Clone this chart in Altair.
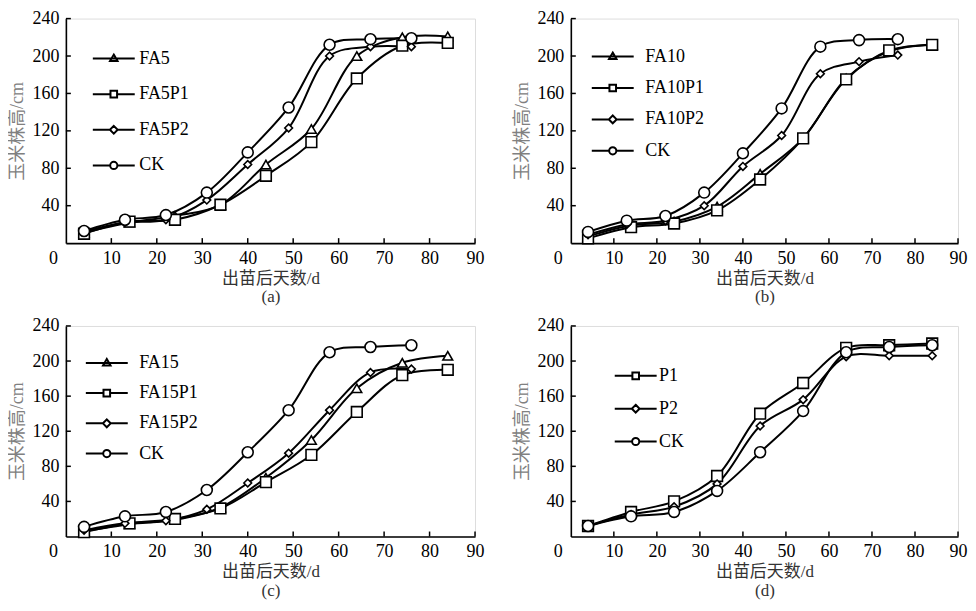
import altair as alt
import pandas as pd

# ---------------- data ----------------
X_MAIN = [4, 14, 24, 34, 44, 54, 64, 74, 84]
X_CK = [4, 13, 22, 31, 40, 49, 58, 67, 76]

# panel (a)
A_FA5 = [11, 22, 29, 41, 84, 122, 200, 220, 221]
A_FA5P1 = [10, 23, 25, 41, 72, 108, 176, 211, 214]
A_FA5P2 = [12, 22, 25, 46, 84, 123, 200, 210, 210]
A_CK = [13, 25, 30, 54, 97, 145, 212, 218, 219]

# panel (b)
B_FA10 = [7, 19, 23, 39, 74, 112, 176, 205, 212]
B_FA10P1 = [5, 17, 21, 35, 68, 112, 175, 206, 212]
B_FA10P2 = [9, 20, 24, 40, 82, 115, 181, 194, 201]
B_CK = [12, 24, 29, 54, 96, 144, 210, 217, 218]

# panel (c)
C_FA15 = [6, 14, 19, 33, 67, 110, 169, 198, 206]
C_FA15P1 = [5, 15, 20, 32, 62, 93, 142, 184, 190]
C_FA15P2 = [7, 15, 18, 31, 61, 95, 144, 187, 191]
C_CK = [11, 23, 28, 53, 96, 144, 210, 216, 218]

# panel (d)
D_P1 = [12, 28, 40, 69, 140, 175, 215, 218, 220]
D_P2 = [12, 25, 34, 60, 126, 156, 205, 206, 206]
D_CK = [12, 23, 28, 52, 96, 143, 210, 216, 218]

X_TICKS = [0, 10, 20, 30, 40, 50, 60, 70, 80, 90]
Y_TICKS = [40, 80, 120, 160, 200, 240]
X_TITLE = "出苗后天数/d"
Y_TITLE = "玉米株高/cm"

# ---------------- styling ----------------
SERIF = "Liberation Serif"
CJK = "Liberation Serif, Noto Sans CJK SC"

MARKERS = {
    "tri": ("triangle-up", 95),
    "sq": ("square", 115),
    "dia": ("diamond", 60),
    "circ": ("circle", 120),
}
L = 7.0
LEG_PATHS = {
    "tri": f"M-{L},0H{L}M0,-1.3L1.25,0.85H-1.25Z",
    "sq": f"M-{L},0H-1.1M1.1,0H{L}M-1.1,-1.1H1.1V1.1H-1.1Z",
    "dia": f"M-{L},0H-1.3M1.3,0H{L}M0,-1.3L1.3,0L0,1.3L-1.3,0Z",
    "circ": f"M-{L},0H-1.2M1.2,0H{L}M-1.2,0A1.2,1.2,0,1,0,1.2,0A1.2,1.2,0,1,0,-1.2,0Z",
}


def panel(series, caption, width, height, legX, legY, rowPad, labOff):
    rows = []
    for name, xs, ys, mk in series:
        for xv, yv in zip(xs, ys):
            rows.append({"series": name, "x": xv, "y": yv})
    df = pd.DataFrame(rows)
    names = [s[0] for s in series]

    xscale = alt.Scale(domain=[0, 90], nice=False, zero=True)
    yscale = alt.Scale(domain=[0, 240], nice=False, zero=True)
    xaxis = alt.Axis(values=X_TICKS, ticks=False, grid=False, domainColor="black",
                     domainWidth=1.6, labelFont=SERIF, labelFontSize=18, labelColor="black",
                     labelPadding=6, labelFlush=False,
                     labelOffset={"condition": {"test": "datum.value === 0", "value": -13}, "value": 0},
                     title=[X_TITLE, caption], titleFont=CJK, titleFontSize=17,
                     titleFontWeight="normal", titleColor="#333333", titlePadding=3,
                     titleLineHeight=19)
    yaxis = alt.Axis(values=Y_TICKS, ticks=False, grid=False, domainColor="black",
                     domainWidth=1.6, labelFont=SERIF, labelFontSize=18, labelColor="black",
                     labelPadding=7, title=Y_TITLE, titleFont=CJK, titleFontSize=18,
                     titleFontWeight="normal", titleColor="#808080", titlePadding=5)

    base = alt.Chart(df)
    X = alt.X("x:Q", scale=xscale, axis=xaxis)
    Y = alt.Y("y:Q", scale=yscale, axis=yaxis)

    lines = base.mark_line(interpolate="catmull-rom", color="black", strokeWidth=2).encode(
        x=X, y=Y, detail="series:N")

    layers = [lines]
    for name, xs, ys, mk in series:
        shp, sz = MARKERS[mk]
        layers.append(
            base.transform_filter(alt.datum.series == name)
            .mark_point(shape=shp, size=sz, filled=True, fill="white", stroke="black",
                        strokeWidth=1.6, opacity=1)
            .encode(x=alt.X("x:Q", scale=xscale), y=alt.Y("y:Q", scale=yscale))
        )

    leg = base.transform_filter("false").mark_point(
        filled=True, fill="white", stroke="black", strokeWidth=2, opacity=1
    ).encode(
        x=alt.X("x:Q", scale=xscale),
        y=alt.Y("y:Q", scale=yscale),
        shape=alt.Shape("series:N",
                        scale=alt.Scale(domain=names, range=[LEG_PATHS[s[3]] for s in series]),
                        legend=alt.Legend(orient="none", legendX=legX, legendY=legY, title=None,
                                          labelFont=SERIF, labelFontSize=18, labelColor="black",
                                          symbolSize=36, symbolOpacity=1, symbolStrokeWidth=2,
                                          rowPadding=rowPad, labelOffset=labOff, padding=0)),
    )
    layers.append(leg)

    xt = alt.Chart(pd.DataFrame({"x": X_TICKS[1:]})).mark_rule(color="black", strokeWidth=1.5).encode(
        x=alt.X("x:Q", scale=xscale), y=alt.value(height), y2=alt.value(height - 5))
    yt = alt.Chart(pd.DataFrame({"y": Y_TICKS})).mark_rule(color="black", strokeWidth=1.5).encode(
        y=alt.Y("y:Q", scale=yscale), x=alt.value(0), x2=alt.value(5))
    layers += [xt, yt]

    return alt.layer(*layers).resolve_scale(shape="independent").properties(width=width, height=height)


pa = panel([("FA5", X_MAIN, A_FA5, "tri"), ("FA5P1", X_MAIN, A_FA5P1, "sq"),
            ("FA5P2", X_CK, A_FA5P2, "dia"), ("CK", X_CK, A_CK, "circ")],
           "(a)", 410, 225, 39, 31, 17.7, 16.5)
pb = panel([("FA10", X_MAIN, B_FA10, "tri"), ("FA10P1", X_MAIN, B_FA10P1, "sq"),
            ("FA10P2", X_CK, B_FA10P2, "dia"), ("CK", X_CK, B_CK, "circ")],
           "(b)", 388, 225, 33, 29, 13.5, 23.7)
pc = panel([("FA15", X_MAIN, C_FA15, "tri"), ("FA15P1", X_MAIN, C_FA15P1, "sq"),
            ("FA15P2", X_CK, C_FA15P2, "dia"), ("CK", X_CK, C_CK, "circ")],
           "(c)", 410, 211, 32, 28, 12.3, 23.4)
pd_ = panel([("P1", X_MAIN, D_P1, "sq"), ("P2", X_MAIN, D_P2, "dia"), ("CK", X_MAIN, D_CK, "circ")],
            "(d)", 388, 211, 56, 41, 14.9, 14.4)

top = alt.hconcat(pa, pb, spacing=28).resolve_scale(shape="independent").resolve_legend(shape="independent")
bot = alt.hconcat(pc, pd_, spacing=28).resolve_scale(shape="independent").resolve_legend(shape="independent")

chart = alt.vconcat(top, bot, spacing=10).resolve_scale(shape="independent").resolve_legend(
    shape="independent"
).properties(
    padding={"left": 0, "top": 0, "right": 0, "bottom": 0}
).configure_view(stroke=None).configure(background="white")

chart.save("out.html", embed_options={"renderer": "svg", "actions": False})
